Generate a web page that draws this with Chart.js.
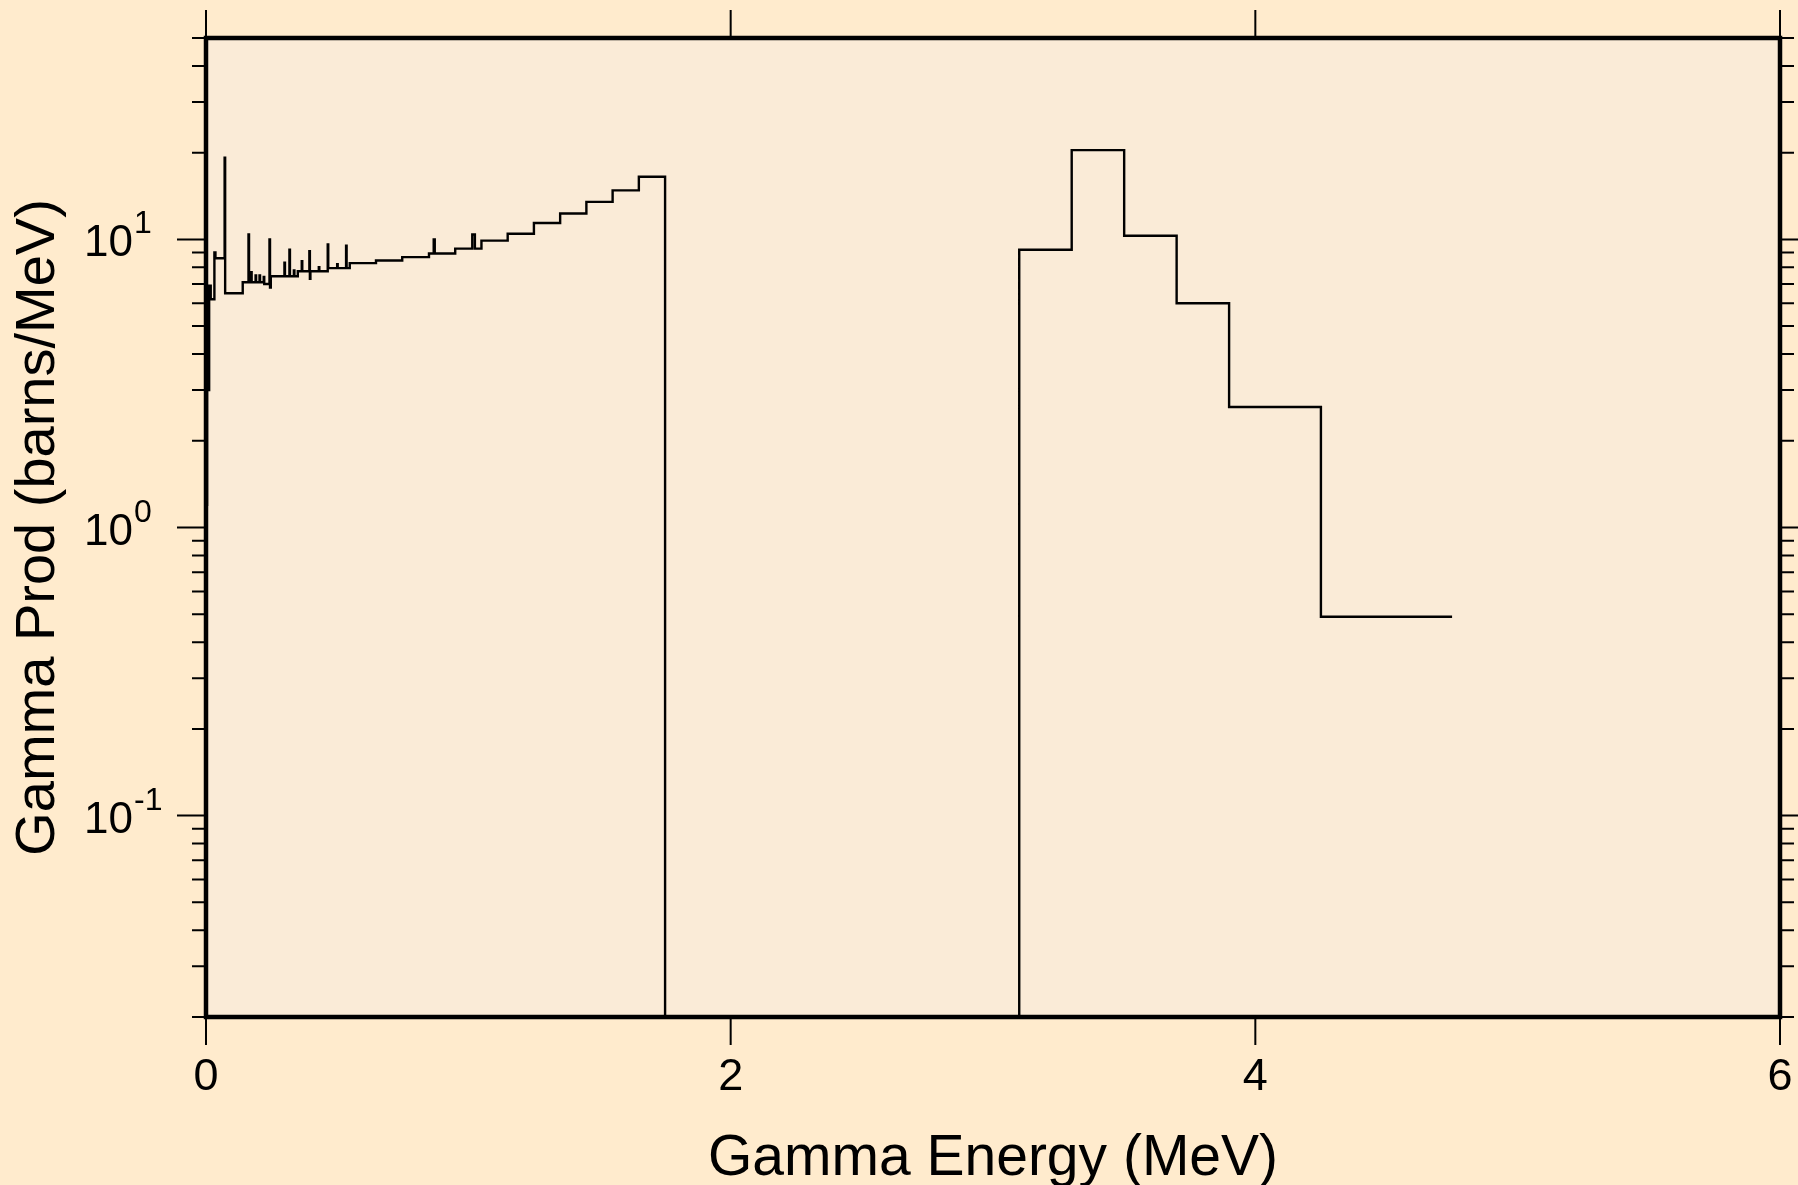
<!DOCTYPE html>
<html>
<head>
<meta charset="utf-8">
<title>Gamma Prod</title>
<script src="https://cdn.jsdelivr.net/npm/chart.js@4.4.1/dist/chart.umd.min.js"></script>
<style>
  html, body { margin: 0; padding: 0; background: #FFEBCD; }
  canvas { display: block; }
</style>
</head>
<body>
<canvas id="myChart" width="1798" height="1185"></canvas>
<script>
// step spectrum: each point holds its value until the next energy
const energy = [
  0.000, 0.004, 0.012, 0.018, 0.032, 0.036, 0.071, 0.073, 0.140, 0.162,
  0.164, 0.172, 0.174, 0.189, 0.191, 0.204, 0.206, 0.220, 0.222, 0.242,
  0.244, 0.247, 0.299, 0.301, 0.318, 0.320, 0.335, 0.337, 0.350, 0.365,
  0.367, 0.394, 0.396, 0.398, 0.430, 0.432, 0.464, 0.466, 0.500, 0.502,
  0.534, 0.536, 0.548, 0.648, 0.748, 0.850, 0.868, 0.872, 0.950, 1.015,
  1.025, 1.050, 1.150, 1.250, 1.350, 1.450, 1.550, 1.650, 1.750, 3.100,
  3.300, 3.500, 3.700, 3.900, 4.250, 4.750
];
const prod = [
  1.2, 3.0, 6.9, 6.2, 9.0, 8.6, 19.2, 6.5, 7.1, 10.4,
  7.1, 7.7, 7.1, 7.5, 7.1, 7.5, 7.1, 7.4, 7.0, 10.0,
  6.8, 7.45, 8.3, 7.45, 9.2, 7.45, 7.8, 7.45, 7.75, 8.4,
  7.75, 9.1, 7.3, 7.75, 8.0, 7.75, 9.6, 7.95, 8.2, 7.95,
  9.5, 7.95, 8.27, 8.45, 8.68, 8.93, 10.0, 8.93, 9.29, 10.4,
  9.29, 9.9, 10.46, 11.4, 12.3, 13.5, 14.8, 16.5, 0.001, 9.2,
  20.4, 10.3, 6.0, 2.62, 0.49, 0.49
];

const xTicks = [0, 2, 4, 6];
const yMajor = [0.1, 1, 10];
const yExp = ['-1', '0', '1'];
const yMinor = [0.02, 0.03, 0.04, 0.05, 0.06, 0.07, 0.08, 0.09,
                0.2, 0.3, 0.4, 0.5, 0.6, 0.7, 0.8, 0.9,
                2, 3, 4, 5, 6, 7, 8, 9,
                20, 30, 40, 50];

const FONT = '"Liberation Sans", Arial, Helvetica, sans-serif';

// backgrounds, frame, tick marks and the 10^n labels
const framePlugin = {
  id: 'frame',
  beforeDraw(chart) {
    const {ctx, chartArea: a} = chart;
    ctx.save();
    ctx.fillStyle = '#FFEBCD';
    ctx.fillRect(0, 0, chart.width, chart.height);
    ctx.fillStyle = '#FAEBD7';
    ctx.fillRect(a.left, a.top, a.right - a.left, a.bottom - a.top);
    ctx.restore();
  },
  afterDraw(chart) {
    const {ctx, chartArea: a} = chart;
    const xs = chart.scales.x, ys = chart.scales.y;
    ctx.save();
    ctx.strokeStyle = '#000';
    ctx.lineWidth = 2;
    ctx.beginPath();
    xTicks.forEach(v => {
      const px = xs.getPixelForValue(v);
      ctx.moveTo(px, a.bottom); ctx.lineTo(px, a.bottom + 28);
      ctx.moveTo(px, a.top); ctx.lineTo(px, a.top - 28);
    });
    yMajor.forEach(v => {
      const py = ys.getPixelForValue(v);
      ctx.moveTo(a.left, py); ctx.lineTo(a.left - 29, py);
      ctx.moveTo(a.right, py); ctx.lineTo(a.right + 29, py);
    });
    yMinor.forEach(v => {
      const py = ys.getPixelForValue(v);
      ctx.moveTo(a.left, py); ctx.lineTo(a.left - 14, py);
      ctx.moveTo(a.right, py); ctx.lineTo(a.right + 14, py);
    });
    ctx.stroke();

    ctx.lineWidth = 4.5;
    ctx.strokeRect(a.left, a.top, a.right - a.left, a.bottom - a.top);

    ctx.fillStyle = '#000';
    ctx.textBaseline = 'alphabetic';
    yMajor.forEach((v, i) => {
      const py = ys.getPixelForValue(v);
      ctx.font = '44px ' + FONT;
      ctx.textAlign = 'right';
      ctx.fillText('10', a.left - 73, py + 17);
      ctx.font = '32px ' + FONT;
      ctx.textAlign = 'left';
      ctx.fillText(yExp[i], a.left - 72, py - 6);
    });
    ctx.restore();
  }
};

const ctx = document.getElementById('myChart').getContext('2d');
const chart = new Chart(ctx, {
  type: 'line',
  data: {
    datasets: [{
      data: energy.map((e, i) => ({x: e, y: prod[i]})),
      stepped: true,
      borderColor: '#000',
      borderWidth: 2.4,
      pointRadius: 0,
      fill: false
    }]
  },
  options: {
    responsive: false,
    animation: false,
    layout: {padding: {top: 38, right: 18, bottom: 0, left: 0}},
    plugins: {legend: {display: false}, tooltip: {enabled: false}},
    scales: {
      x: {
        type: 'linear',
        min: 0, max: 6,
        grid: {display: false, drawTicks: false},
        border: {display: false},
        ticks: {stepSize: 2, padding: 34, color: '#000', font: {family: FONT, size: 45}},
        title: {
          display: true, text: 'Gamma Energy (MeV)', color: '#000',
          font: {family: FONT, size: 57, lineHeight: 0.9},
          padding: {top: 0, bottom: 0}
        },
        afterFit: s => { s.height = 168; s.paddingLeft = 0; s.paddingRight = 0; }
      },
      y: {
        type: 'logarithmic',
        min: 0.02, max: 50,
        grid: {display: false, drawTicks: false},
        border: {display: false},
        ticks: {display: false},
        title: {
          display: true, text: 'Gamma Prod (barns/MeV)', color: '#000',
          font: {family: FONT, size: 56, lineHeight: 1},
          padding: {top: 11, bottom: 0}
        },
        afterFit: s => { s.width = 206; s.paddingTop = 0; s.paddingBottom = 0; }
      }
    }
  },
  plugins: [framePlugin]
});
</script>
</body>
</html>
